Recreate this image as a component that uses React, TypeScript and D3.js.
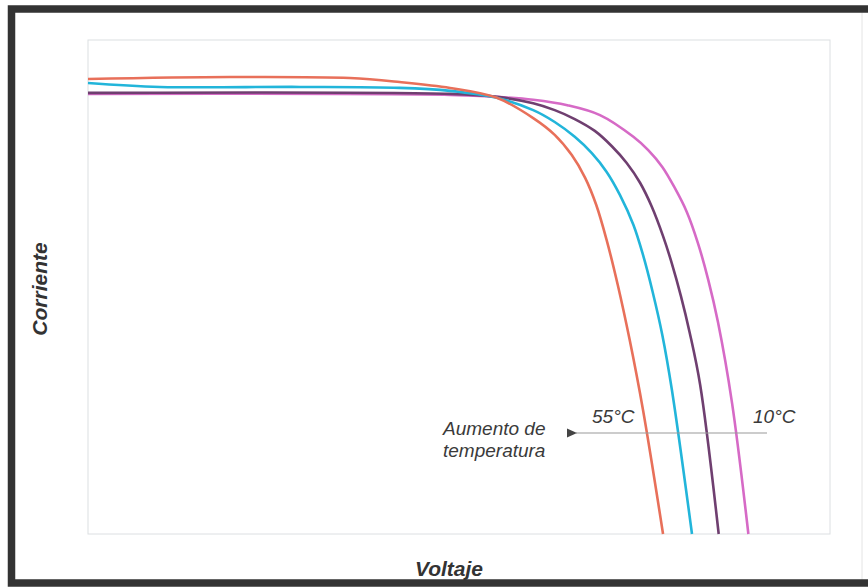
import React from "react";
import * as d3 from "d3";

// Data (arbitrary units: voltage 0-100, current 0-100)
const v55 = [0, 19.1, 35.3, 42.0, 48.8, 55.1, 60.0, 62.9, 65.2, 67.0, 68.5, 69.9, 71.4, 73.0, 74.8, 77.5];
const i55 = [92.1, 92.5, 92.3, 91.5, 90.3, 88.3, 84.2, 80.8, 76.7, 72.1, 66.6, 59.5, 50.4, 39.3, 25.1, 0];

const vA = [0, 9.7, 28.6, 42.0, 48.8, 55.1, 60.0, 62.9, 65.6, 67.9, 69.9, 71.7, 73.5, 74.8, 76.1, 77.4, 78.7, 81.4];
const iA = [91.3, 90.5, 90.5, 90.3, 89.7, 88.3, 85.8, 83.4, 80.4, 77.1, 73.3, 68.6, 62.6, 56.5, 49.0, 40.3, 29.1, 0];

const vB = [0, 48.8, 55.1, 60.0, 62.9, 65.6, 68.3, 70.6, 72.6, 74.4, 76.0, 77.5, 78.7, 79.9, 81.1, 82.5, 85.0];
const iB = [89.3, 89.1, 88.5, 87.2, 85.8, 84.0, 81.6, 78.5, 75.1, 71.1, 66.2, 60.3, 54.7, 48.2, 40.7, 30.2, 0];

const v10 = [0, 48.8, 55.1, 60.0, 64.6, 69.0, 73.5, 75.5, 77.4, 79.1, 80.7, 82.2, 83.6, 84.9, 86.8, 89.0];
const i10 = [89.1, 88.9, 88.5, 87.9, 86.8, 84.8, 80.4, 77.7, 74.3, 70.0, 65.2, 58.9, 51.4, 42.9, 26.5, 0];

const seriesList = [
  { name: "10°C", v: v10, i: i10, color: "#d66ac6" },
  { name: "mid2", v: vB, i: iB, color: "#6f3f70" },
  { name: "mid1", v: vA, i: iA, color: "#22b5da" },
  { name: "55°C", v: v55, i: i55, color: "#e8705a" },
];

const W = 868;
const H = 587;
const plot = { left: 88, top: 40, right: 830, bottom: 534 };

export default function App() {
  const x = d3.scaleLinear().domain([0, 100]).range([plot.left, plot.right]);
  const y = d3.scaleLinear().domain([0, 100]).range([plot.bottom, plot.top]);
  const line = d3
    .line<[number, number]>()
    .x((d) => x(d[0]))
    .y((d) => y(d[1]))
    .curve(d3.curveCatmullRom.alpha(0.5));

  const font = "'Liberation Sans', Arial, sans-serif";

  return (
    <svg
      width={W}
      height={H}
      style={{ position: "absolute", left: 0, top: 0, background: "#fff" }}
      fontFamily={font}
    >
      <defs>
        <marker id="arr" viewBox="0 0 10 10" refX="1" refY="5" markerWidth="10" markerHeight="10" markerUnits="userSpaceOnUse" orient="auto-start-reverse">
          <path d="M0,5 L10,0.5 L10,9.5 Z" fill="#444" />
        </marker>
      </defs>
      {/* outer frame */}
      <line x1={862} y1={9} x2={862} y2={583} stroke="#e4e4e4" strokeWidth={1} />
      <rect x={11.5} y={9} width={880} height={574} fill="none" stroke="#333" strokeWidth={7.5} />
      {/* plot area */}
      <rect
        x={plot.left}
        y={plot.top}
        width={plot.right - plot.left}
        height={plot.bottom - plot.top}
        fill="none"
        stroke="#dcdfe2"
        strokeWidth={1}
      />
      {seriesList.map((s) => (
        <path
          key={s.name}
          d={line(s.v.map((vv, k) => [vv, s.i[k]] as [number, number])) || ""}
          fill="none"
          stroke={s.color}
          strokeWidth={2.6}
          strokeLinejoin="round"
        />
      ))}
      {/* annotation */}
      <line x1={767} y1={433} x2={576} y2={433} stroke="#999" strokeWidth={1} markerEnd="url(#arr)" />
      <text x={592} y={423} fontSize={19} fontStyle="italic" fill="#3a3a3a">55°C</text>
      <text x={753} y={423} fontSize={19} fontStyle="italic" fill="#3a3a3a">10°C</text>
      <text x={443} y={435} fontSize={19} fontStyle="italic" fill="#3a3a3a">Aumento de</text>
      <text x={443} y={457} fontSize={19} fontStyle="italic" fill="#3a3a3a">temperatura</text>
      {/* axis titles */}
      <text x={449} y={576} fontSize={21} fontStyle="italic" fontWeight="bold" textAnchor="middle" fill="#333">Voltaje</text>
      <text
        transform="translate(47,289) rotate(-90)"
        fontSize={21}
        fontStyle="italic"
        fontWeight="bold"
        textAnchor="middle"
        fill="#333"
      >
        Corriente
      </text>
    </svg>
  );
}
